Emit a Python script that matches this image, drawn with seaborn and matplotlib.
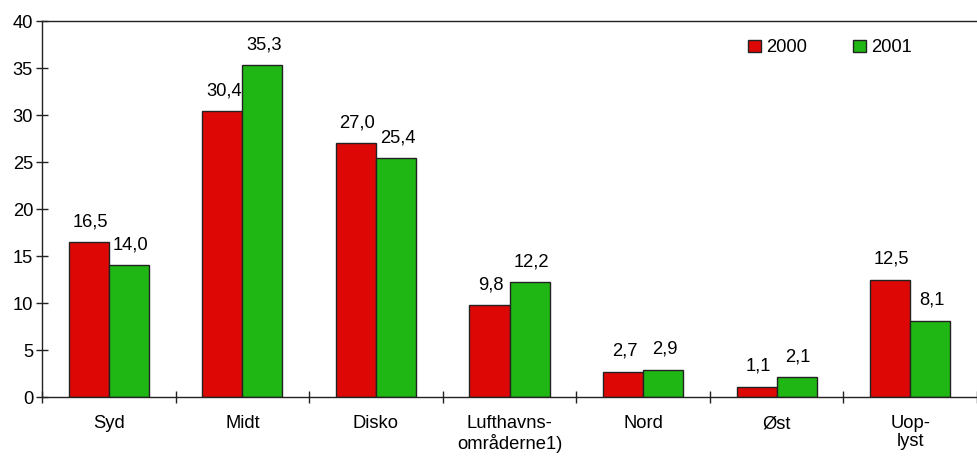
import numpy as np
import pandas as pd
import seaborn as sns
import matplotlib.pyplot as plt
from matplotlib.ticker import FixedLocator

# --- Data ---
categories = ["Syd", "Midt", "Disko", "Lufthavns-\nområderne1)", "Nord", "Øst", "Uop-\nlyst"]
years = ["2000", "2001"]
values_2000 = [16.5, 30.4, 27.0, 9.8, 2.7, 1.1, 12.5]
values_2001 = [14.0, 35.3, 25.4, 12.2, 2.9, 2.1, 8.1]

df = pd.DataFrame({
    "omraade": categories * 2,
    "aar": [years[0]] * len(categories) + [years[1]] * len(categories),
    "pct": values_2000 + values_2001,
})

FS = 13.2

sns.set_style("white")
plt.rcParams['font.family'] = ['Liberation Sans', 'DejaVu Sans']
plt.rcParams['font.size'] = FS
plt.rcParams['text.color'] = "black"
plt.rcParams['xtick.color'] = "black"
plt.rcParams['ytick.color'] = "black"

fig = plt.figure(figsize=(9.78, 4.57), dpi=100)
ax = fig.add_axes([0.043, 0.131, 0.956, 0.823])

palette = {"2000": "#DD0806", "2001": "#1FB714"}
sns.barplot(data=df, x="omraade", y="pct", hue="aar", order=categories,
            hue_order=years, palette=palette, width=0.6, saturation=1,
            edgecolor="#222222", linewidth=1.0, ax=ax)

# value labels with comma decimals
for container in ax.containers:
    for bar in container:
        lab = f"{bar.get_height():.1f}".replace(".", ",")
        ax.annotate(lab, (bar.get_x() + bar.get_width() / 2, bar.get_height()),
                    xytext=(1, 11.5), textcoords="offset points",
                    ha="center", va="baseline", fontsize=FS, color="black")

ax.set_ylim(0, 40)
ax.set_xlim(-0.5, len(categories) - 0.5)
ax.set_yticks(np.arange(0, 41, 5))
ax.set_xlabel("")
ax.set_ylabel("")
for t in ax.get_xticklabels():
    t.set_linespacing(1.1)

# ticks between categories, crossing the axis
ax.xaxis.set_minor_locator(FixedLocator(np.arange(-0.5, len(categories), 1.0)))
ax.tick_params(axis="x", which="both", bottom=True)
ax.tick_params(axis="x", which="major", length=0, pad=13, labelsize=FS)
ax.tick_params(axis="x", which="minor", direction="inout", length=9, width=1, color="#222222")
ax.tick_params(axis="y", left=True, direction="inout", length=9, width=1, color="#222222",
               pad=2, labelsize=FS)

for side in ["left", "bottom", "top"]:
    ax.spines[side].set_visible(True)
    ax.spines[side].set_color("#222222")
    ax.spines[side].set_linewidth(1.0)
ax.spines["right"].set_visible(False)

leg = ax.legend(ncol=2, frameon=False, loc="upper right",
                bbox_to_anchor=(0.948, 0.995), handlelength=0.7, handleheight=0.7,
                handletextpad=0.3, columnspacing=2.5, fontsize=FS)
for h in leg.legend_handles:
    h.set_edgecolor("#222222")
    h.set_linewidth(1.0)

fig.savefig("out.png", dpi=100)
